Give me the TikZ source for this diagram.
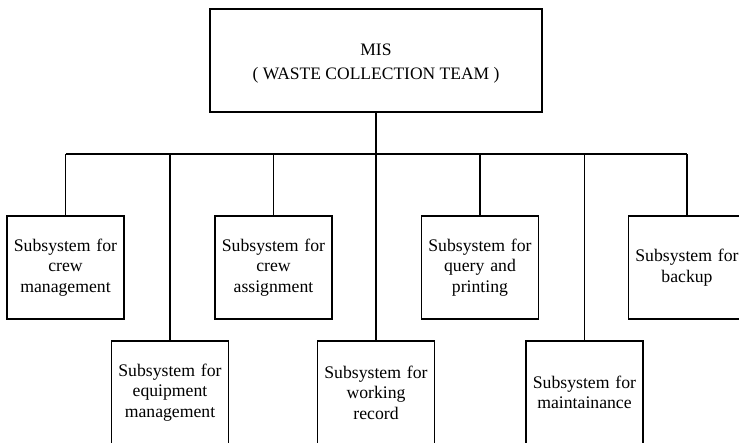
\documentclass[tikz,border=0pt]{standalone}
\usepackage{fontspec}
\setmainfont{Liberation Serif}
\begin{document}
\begin{tikzpicture}[x=1pt,y=-1pt,
  line width=1.4pt,
  sysbox/.style={draw, rectangle, minimum width=117pt, minimum height=103pt, inner sep=0pt,
    align=center, text width=114pt, font=\fontsize{17.7}{20.5}\selectfont},
  topbox/.style={draw, rectangle, minimum width=332pt, minimum height=103pt, inner sep=0pt},
  toptext/.style={align=center, inner sep=0pt, font=\fontsize{17.5}{24}\selectfont},
  conn/.style={draw, line width=1.4pt}]
\useasboundingbox (0,0) rectangle (739,442);
\clip (0,0) rectangle (739,442);
\node[topbox] (mis) at (376,60.5) {};
\node[toptext] (mistext) at (376,64) {MIS\\( WASTE COLLECTION TEAM )};
\coordinate (bus) at (0,154);
\node[sysbox] (crew) at (65.5,267.5) {Subsystem for\\crew\\management};
\node[sysbox] (assign) at (273.5,267.5) {Subsystem for\\crew\\assignment};
\node[sysbox] (query) at (480,267.5) {Subsystem for\\query and\\printing};
\node[sysbox] (backup) at (687,267.5) {Subsystem for\\backup};
\node[sysbox] (equip) at (170,392.5) {Subsystem for\\equipment\\management};
\node[sysbox] (work) at (376,392.5) {Subsystem for\\working\\record};
\node[sysbox] (maint) at (584.5,392.5) {Subsystem for\\maintainance};
\draw[conn] (mis.south) -- (mis.south |- bus);
\draw[conn] (crew.north |- bus) -- (backup.north |- bus);
\foreach \n in {crew,assign,query,backup,equip,work,maint}{
  \draw[conn] (\n.north) -- (\n.north |- bus);
}
\end{tikzpicture}
\end{document}
